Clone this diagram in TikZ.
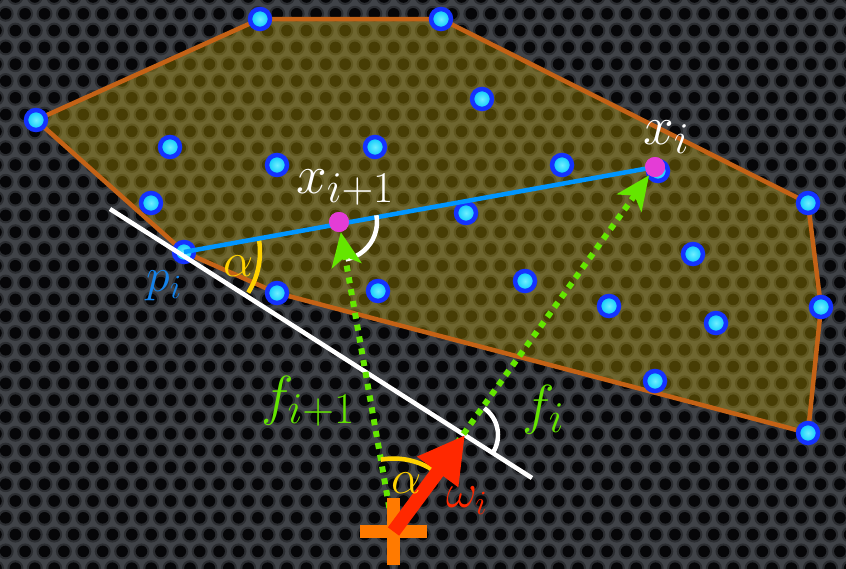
\RequirePackage{fix-cm}
\documentclass[tikz,border=0pt]{standalone}
\usetikzlibrary{arrows.meta}
\DeclareMathSizes{55}{55}{44}{33}
\DeclareMathSizes{48}{48}{34}{26}
\definecolor{bgc}{RGB}{64,67,72}
\definecolor{holec}{RGB}{6,6,8}
\definecolor{hullfill}{RGB}{205,175,0}
\definecolor{hulledge}{RGB}{196,98,22}
\definecolor{ptring}{RGB}{20,50,255}
\definecolor{ptin}{RGB}{0,195,250}
\definecolor{ptlight}{RGB}{110,240,255}
\definecolor{mag}{RGB}{228,60,214}
\definecolor{bline}{RGB}{0,150,255}
\definecolor{plbl}{RGB}{20,130,235}
\definecolor{gr}{RGB}{100,230,0}
\definecolor{rd}{RGB}{255,40,0}
\definecolor{org}{RGB}{255,122,0}
\definecolor{yl}{RGB}{255,210,0}
\tikzset{
  pt/.style={circle, draw=ptring, line width=4.5pt, shade, inner color=ptlight, outer color=ptin, minimum size=20pt, inner sep=0pt},
  magpt/.style={circle, fill=mag, minimum size=20pt, inner sep=0pt},
  lbl/.style={inner sep=0pt, anchor=base west, font=\fontsize{55}{60}\selectfont},
  slbl/.style={inner sep=0pt, anchor=base west, font=\fontsize{48}{56}\selectfont},
  garrow/.style={draw=gr, line width=6pt, dash pattern=on 6pt off 6pt, -{Stealth[length=34pt,width=30pt,inset=9pt]}},
  anglearc/.style={line width=4.5pt},
}
\begin{document}
\begin{tikzpicture}[x=1pt,y=-1pt]
\useasboundingbox (0,0) rectangle (846,568);
% textured background
\begin{scope}
  \clip (0,0) rectangle (846,568);
  \fill[bgc] (-5,-5) rectangle (851,573);
  \fill[holec, opacity=0.35] \foreach \r in {0,...,34}{ \foreach \c in {0,...,44}{ ({\c*19.4+mod(\r,2)*9.7-4},{\r*16.8-3}) circle (8) } };
  \fill[holec] \foreach \r in {0,...,34}{ \foreach \c in {0,...,44}{ ({\c*19.4+mod(\r,2)*9.7-4},{\r*16.8-3}) circle (5.8) } };
\end{scope}
% hull coordinates
\coordinate (v1) at (36,120);
\coordinate (v2) at (260,19);
\coordinate (v3) at (441,19);
\coordinate (v4) at (808,203);
\coordinate (v5) at (821,307);
\coordinate (v6) at (808,433);
\coordinate (v7) at (277,293);
\coordinate (v8) at (184,252);
\fill[hullfill, opacity=0.33] (v1) -- (v2) -- (v3) -- (v4) -- (v5) -- (v6) -- (v7) -- (v8) -- cycle;
\draw[hulledge, line width=4.5pt, line join=round] (v1) -- (v2) -- (v3) -- (v4) -- (v5) -- (v6) -- (v7) -- (v8) -- cycle;
% points
\foreach \n in {1,...,7} \node[pt] (P\n) at (v\n) {};
\node[pt] (PI) at (v8) {};
\foreach \p/\n in {(482,99)/a,(170,147)/b,(277,165)/c,(375,147)/d,(151,203)/e,(562,165)/f,(466,213)/g,(693,254)/h,(525,281)/k,(378,291)/l,(609,306)/m,(716,323)/n,(655,381)/o,(658,171)/x}
  \node[pt] (Q\n) at \p {};
% key coordinates
\coordinate (o) at (393.5,531.5);
\coordinate (q) at (465,435);
\coordinate (w1) at (110,209);
\coordinate (w2) at (532,478);
% yellow angle at p_i
\draw[yl, anglearc] ([shift={(-10.2:76)}]PI.center) arc[start angle=-10.2, end angle=32.3, radius=76];
% white line
\draw[white, line width=4.5pt] (w1) -- (w2);
% blue line
\node[magpt] (XI) at (655,167) {};
\node[magpt] (XIP) at (339,222) {};
\draw[bline, line width=4.5pt] (PI.center) -- (XI.center);
\node[magpt] at (XI) {};
\node[magpt] at (XIP) {};
% white angle arcs
\draw[white, anglearc] ([shift={(-10.2:38)}]XIP.center) arc[start angle=-10.2, end angle=80, radius=38];
\draw[white, anglearc] ([shift={(-54.3:33)}]q) arc[start angle=-54.3, end angle=32.3, radius=33];
% green dotted arrows
\draw[garrow] (o) -- (XIP);
\draw[garrow] (o) -- (XI);
% yellow angle at origin
\draw[yl, anglearc] ([shift={(-100:73)}]o) arc[start angle=-100, end angle=-52, radius=73];
% orange plus
\draw[org, line width=13pt] ([xshift=-33.5pt]o) -- ([xshift=33.5pt]o);
\draw[org, line width=13pt] ([yshift=-33.5pt]o) -- ([yshift=33.5pt]o);
% red arrow
\draw[rd, line width=14pt, -{Triangle[length=46pt,width=48pt]}] (o) -- (q);
% labels
\node[lbl, text=white] (LXI) at (643,144) {$x_i$};
\node[lbl, text=white] (LXIP) at (296,193) {$x_{i+1}$};
\node[slbl, text=plbl] (LPI) at (146,291) {$p_i$};
\node[slbl, text=yl] (LA1) at (223,276) {$\alpha$};
\node[lbl, text=gr] (LF1) at (261,414) {$f_{i+1}$};
\node[lbl, text=gr] (LF) at (522,423) {$f_i$};
\node[slbl, text=yl] (LA2) at (391,493) {$\alpha$};
\node[slbl, text=rd] (LW) at (446,507) {$\omega_i$};
\end{tikzpicture}
\end{document}
